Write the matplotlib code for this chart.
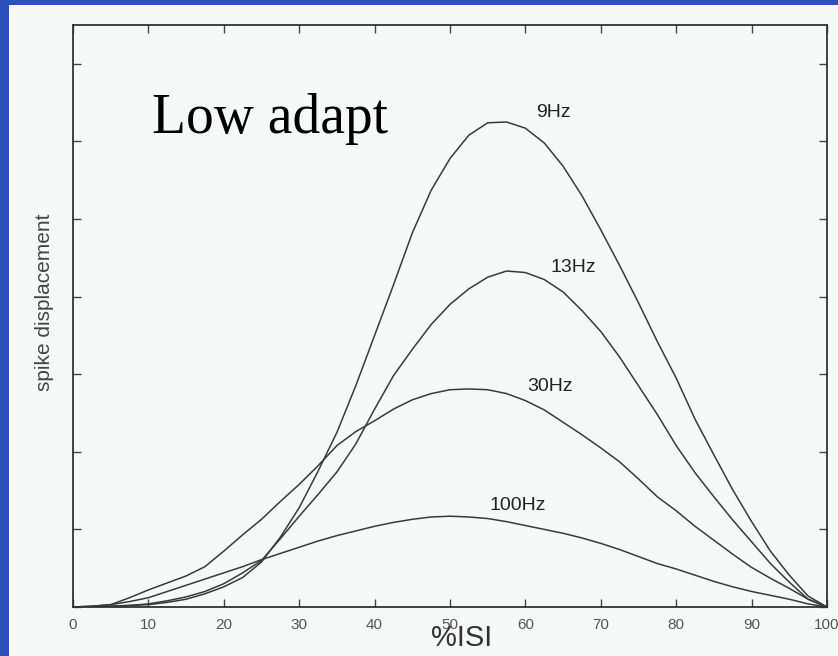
import matplotlib
matplotlib.use("Agg")
import matplotlib.pyplot as plt
from matplotlib.patches import Rectangle

# %ISI sample grid and spike displacement for each stimulation rate
isi_pct = [0, 2.5, 5, 7.5, 10, 12.5, 15, 17.5, 20, 22.5, 25, 27.5, 30, 32.5,
           35, 37.5, 40, 42.5, 45, 47.5, 50, 52.5, 55, 57.5, 60, 62.5, 65,
           67.5, 70, 72.5, 75, 77.5, 80, 82.5, 85, 87.5, 90, 92.5, 95, 97.5, 100]

disp_9hz = [0, 0.0, 0.01, 0.02, 0.03, 0.06, 0.10, 0.17, 0.26, 0.38, 0.58, 0.90,
            1.28, 1.75, 2.25, 2.85, 3.50, 4.15, 4.82, 5.37, 5.78, 6.08, 6.24,
            6.25, 6.17, 5.98, 5.68, 5.30, 4.86, 4.40, 3.92, 3.42, 2.95, 2.42,
            1.96, 1.51, 1.10, 0.72, 0.41, 0.14, 0]

disp_13hz = [0, 0.0, 0.01, 0.02, 0.04, 0.08, 0.13, 0.20, 0.30, 0.44, 0.60, 0.88,
             1.17, 1.45, 1.74, 2.10, 2.55, 2.98, 3.32, 3.64, 3.90, 4.10, 4.25,
             4.33, 4.31, 4.22, 4.06, 3.82, 3.55, 3.22, 2.85, 2.48, 2.08, 1.73,
             1.42, 1.12, 0.84, 0.56, 0.32, 0.10, 0]

disp_30hz = [0, 0.01, 0.03, 0.12, 0.22, 0.31, 0.40, 0.52, 0.72, 0.93, 1.13, 1.36,
             1.58, 1.82, 2.08, 2.26, 2.40, 2.55, 2.67, 2.75, 2.80, 2.81, 2.80,
             2.75, 2.66, 2.54, 2.38, 2.22, 2.05, 1.87, 1.65, 1.42, 1.24, 1.04,
             0.86, 0.68, 0.51, 0.37, 0.24, 0.10, 0]

disp_100hz = [0, 0.01, 0.03, 0.07, 0.12, 0.20, 0.28, 0.36, 0.44, 0.52, 0.61, 0.69,
              0.77, 0.85, 0.92, 0.98, 1.04, 1.09, 1.13, 1.16, 1.17, 1.16, 1.14,
              1.10, 1.05, 1.00, 0.95, 0.89, 0.82, 0.74, 0.65, 0.56, 0.49, 0.41,
              0.33, 0.26, 0.20, 0.15, 0.10, 0.04, 0]

series = [("9Hz", disp_9hz), ("13Hz", disp_13hz),
          ("30Hz", disp_30hz), ("100Hz", disp_100hz)]
label_pos = {"9Hz": (63.7, 6.37), "13Hz": (66.3, 4.37),
             "30Hz": (63.3, 2.84), "100Hz": (59.0, 1.31)}

x_ticks = list(range(0, 101, 10))
y_ticks = list(range(0, 8))

BLUE = "#2e50bf"
PANEL = "#f6faf6"
INK = "#3a3a3a"

fig = plt.figure(figsize=(8.38, 6.56), dpi=100, facecolor=BLUE)
W, H = 838, 656
fig.patches.append(Rectangle((9 / W, 0), 1 - 9 / W, 1 - 5 / H,
                             transform=fig.transFigure, facecolor=PANEL,
                             edgecolor="none", zorder=-10))

ax = fig.add_axes([73 / W, (H - 607) / H, (827 - 73) / W, (607 - 25) / H])
ax.set_facecolor("none")

for name, vals in series:
    ax.plot(isi_pct, vals, color=INK, lw=1.1)
    lx, ly = label_pos[name]
    ax.text(lx, ly, name, ha="center", va="center", fontsize=14,
            family="Liberation Sans", color="#222222")

ax.set_xlim(0, 100)
ax.set_ylim(0, 7.5)
ax.set_xticks(x_ticks)
ax.set_yticks(y_ticks)
ax.set_yticklabels([])
ax.tick_params(axis="both", direction="in", length=6, width=1.0,
               color="#444444", top=True, right=True)
ax.tick_params(axis="x", labelsize=11, labelcolor="#555555", pad=8)
for lab in ax.get_xticklabels():
    lab.set_family("Liberation Sans")
for sp in ax.spines.values():
    sp.set_color("#333333")
    sp.set_linewidth(1.3)

ax.text(0.516, -0.053, "%ISI", transform=ax.transAxes, ha="center",
        va="center", fontsize=21, family="Liberation Sans", color="#333333")
fig.text(44 / W, 1 - 302 / H, "spike displacement", rotation=90,
         ha="center", va="center", fontsize=15, family="Liberation Sans",
         color="#444444")
fig.text(152 / W, 1 - 133 / H, "Low adapt", ha="left", va="baseline",
         fontsize=40, family="Liberation Serif", color="black")

fig.savefig("out.png", dpi=100, facecolor=BLUE)
